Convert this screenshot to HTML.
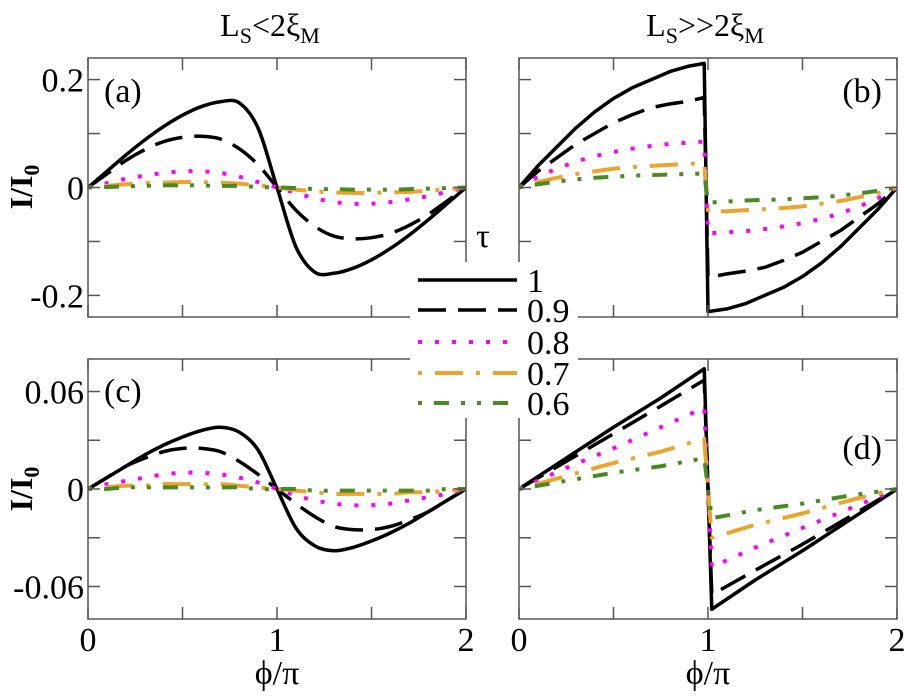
<!DOCTYPE html>
<html><head><meta charset="utf-8"><style>
html,body{margin:0;padding:0;background:#fff}
svg{display:block}
svg text{font-family:"Liberation Serif","DejaVu Serif",serif}
</style></head><body>
<svg id="fig" width="908" height="696" viewBox="0 0 908 696" font-family="Liberation Serif, DejaVu Serif, serif">
<g id="plots"></g>
<rect x="410" y="262" width="168" height="156" fill="#fff"/>
<g id="legend">
<text x="483" y="247" font-size="34" text-anchor="middle">τ</text>
</g>
<text x="270" y="36" font-size="32" text-anchor="middle">L<tspan font-size="22" dy="7">S</tspan><tspan dy="-7">&lt;2ξ</tspan><tspan font-size="22" dy="7">M</tspan></text>
<text x="705" y="36" font-size="32" text-anchor="middle">L<tspan font-size="22" dy="7">S</tspan><tspan dy="-7">&gt;&gt;2ξ</tspan><tspan font-size="22" dy="7">M</tspan></text>
<text transform="translate(32,187) rotate(-90)" font-size="32" font-weight="bold" text-anchor="middle">I/I<tspan font-size="22" dy="7">0</tspan></text>
<text transform="translate(32,489) rotate(-90)" font-size="32" font-weight="bold" text-anchor="middle">I/I<tspan font-size="22" dy="7">0</tspan></text>
<text x="277" y="684" font-size="34" text-anchor="middle">ϕ/π</text>
<text x="708" y="684" font-size="34" text-anchor="middle">ϕ/π</text>
</svg>
<script>
const taus = ["1","0.9","0.8","0.7","0.6"];
const xA = [0,0.1,0.2,0.3,0.4,0.5,0.6,0.7,0.8,0.9,1,1.1,1.2,1.3,1.4,1.5,1.6,1.7,1.8,1.9,2];
const a_t10 = [0,0.03,0.06,0.088,0.113,0.134,0.15,0.159,0.157,0.11,0,-0.11,-0.157,-0.159,-0.15,-0.134,-0.113,-0.088,-0.06,-0.03,0];
const a_t09 = [0,0.025,0.05,0.07,0.085,0.093,0.095,0.09,0.072,0.042,0,-0.042,-0.072,-0.09,-0.095,-0.093,-0.085,-0.07,-0.05,-0.025,0];
const a_t08 = [0,0.008,0.016,0.022,0.027,0.03,0.03,0.027,0.02,0.01,0,-0.01,-0.02,-0.027,-0.03,-0.03,-0.027,-0.022,-0.016,-0.008,0];
const a_t07 = [0,0.003,0.006,0.008,0.009,0.01,0.01,0.009,0.007,0.004,0,-0.004,-0.007,-0.009,-0.01,-0.01,-0.009,-0.008,-0.006,-0.003,0];
const a_t06 = [0,0.001,0.002,0.003,0.004,0.004,0.004,0.003,0.003,0.001,0,-0.001,-0.003,-0.003,-0.004,-0.004,-0.004,-0.003,-0.002,-0.001,0];
const c_t10 = [0,0.007,0.014,0.021,0.027,0.032,0.036,0.038,0.035,0.024,0,-0.024,-0.035,-0.038,-0.036,-0.032,-0.027,-0.021,-0.014,-0.007,0];
const c_t09 = [0,0.007,0.014,0.019,0.023,0.025,0.025,0.023,0.017,0.009,0,-0.009,-0.017,-0.023,-0.025,-0.025,-0.023,-0.019,-0.014,-0.007,0];
const c_t08 = [0,0.003,0.005,0.007,0.009,0.01,0.01,0.009,0.007,0.004,0,-0.004,-0.007,-0.009,-0.01,-0.01,-0.009,-0.007,-0.005,-0.003,0];
const c_t07 = [0,0.001,0.002,0.002,0.003,0.003,0.003,0.003,0.002,0.001,0,-0.001,-0.002,-0.003,-0.003,-0.003,-0.003,-0.002,-0.002,-0.001,0];
const c_t06 = [0,0,0.001,0.001,0.001,0.001,0.001,0.001,0.001,0,0,0,-0.001,-0.001,-0.001,-0.001,-0.001,-0.001,-0.001,0,0];
const xB = [0,0.1,0.2,0.3,0.4,0.5,0.6,0.7,0.8,0.9,0.98,1,1.1,1.2,1.3,1.4,1.5,1.6,1.7,1.8,1.9,2];
const b_t10 = [0,0.04,0.075,0.11,0.14,0.165,0.185,0.2,0.215,0.225,0.23,-0.23,-0.225,-0.215,-0.2,-0.185,-0.165,-0.14,-0.11,-0.075,-0.04,0];
const b_t09 = [0,0.03,0.055,0.08,0.1,0.12,0.135,0.148,0.155,0.16,0.167,-0.167,-0.16,-0.155,-0.148,-0.135,-0.12,-0.1,-0.08,-0.055,-0.03,0];
const b_t08 = [0,0.02,0.035,0.048,0.058,0.066,0.072,0.077,0.081,0.083,0.085,-0.085,-0.083,-0.081,-0.077,-0.072,-0.066,-0.058,-0.048,-0.035,-0.02,0];
const b_t07 = [0,0.01,0.018,0.025,0.03,0.035,0.038,0.04,0.042,0.044,0.045,-0.045,-0.044,-0.042,-0.04,-0.038,-0.035,-0.03,-0.025,-0.018,-0.01,0];
const b_t06 = [0,0.006,0.011,0.015,0.018,0.02,0.022,0.023,0.024,0.025,0.026,-0.028,-0.026,-0.024,-0.023,-0.022,-0.02,-0.018,-0.015,-0.011,-0.006,0];
const xD = [0,0.25,0.5,0.75,0.98,1.02,1.25,1.5,1.75,2];
const d_t10 = [0,0.019,0.038,0.056,0.074,-0.074,-0.056,-0.038,-0.019,0];
const d_t09 = [0,0.017,0.034,0.051,0.067,-0.065,-0.05,-0.034,-0.017,0];
const d_t08 = [0,0.013,0.025,0.038,0.05,-0.048,-0.036,-0.024,-0.012,0];
const d_t07 = [0,0.008,0.016,0.023,0.031,-0.03,-0.022,-0.015,-0.007,0];
const d_t06 = [0,0.005,0.01,0.014,0.019,-0.018,-0.013,-0.009,-0.004,0];
const yTicksTop = [-0.2,-0.1,0,0.1,0.2];
const yLabelsTop = ["-0.2","","0","","0.2"];
const yTicksBot = [-0.06,-0.03,0,0.03,0.06];
const yLabelsBot = ["-0.06","","0","","0.06"];
const xTicks = [0,0.5,1,1.5,2];
const xLabels = ["0","","1","","2"];

const NS="http://www.w3.org/2000/svg";
const styles=[
 {c:"#000",w:3.5,d:""},
 {c:"#000",w:3.5,d:"28 12"},
 {c:"#ff00ff",w:4,d:"4 13"},
 {c:"#eba42e",w:4,d:"4 13 28 13"},
 {c:"#4a8a22",w:4,d:"4 12 15 12 4 12"}
];
const plots=document.getElementById('plots');
function mk(tag,attrs,parent){const e=document.createElementNS(NS,tag);for(const k in attrs)e.setAttribute(k,attrs[k]);(parent||plots).appendChild(e);return e;}
function panel(name,x0,x1,y0,y1,ymin,ymax,xs,series,smooth,label,lx,ly,lanchor,yt,yl,showX){
 const g=mk('g',{});
 
 
 const X=v=>x0+(v/2)*(x1-x0);
 const Y=v=>y1-(v-ymin)/(ymax-ymin)*(y1-y0);
 const cp=mk('clipPath',{id:'clip'+name},g);mk('rect',{x:x0,y:y0,width:x1-x0,height:y1-y0},cp);
 series.forEach((ys,i)=>{
  const pts=xs.map((x,j)=>[X(x),Y(ys[j])]);
  let d='M'+pts[0][0]+','+pts[0][1];
  if(smooth){
   for(let j=0;j<pts.length-1;j++){
    const p0=pts[Math.max(0,j-1)],p1=pts[j],p2=pts[j+1],p3=pts[Math.min(pts.length-1,j+2)];
    d+=' C'+(p1[0]+(p2[0]-p0[0])/6)+','+(p1[1]+(p2[1]-p0[1])/6)+' '+(p2[0]-(p3[0]-p1[0])/6)+','+(p2[1]-(p3[1]-p1[1])/6)+' '+p2[0]+','+p2[1];
   }
  } else { for(let j=1;j<pts.length;j++) d+=' L'+pts[j][0]+','+pts[j][1]; }
  const s=styles[i];
  const p=mk('path',{d:d,fill:'none',stroke:s.c,'stroke-width':s.w,'stroke-dasharray':s.d,'stroke-linejoin':'round','clip-path':'url(#clip'+name+')'},g);
  
  
 });
 const fr=mk('rect',{x:x0,y:y0,width:x1-x0,height:y1-y0,fill:'none',stroke:'#555','stroke-width':1.5},g);
 
 
 yt.forEach((v,i)=>{
  const y=Y(v);
  mk('line',{x1:x0,x2:x0+12,y1:y,y2:y,stroke:'#555','stroke-width':1.5},g);
  mk('line',{x1:x1,x2:x1-12,y1:y,y2:y,stroke:'#555','stroke-width':1.5},g);
  if(yl&&yl[i]){const t=mk('text',{x:x0-4,y:y+12,'font-size':34,'text-anchor':'end'},g);t.textContent=yl[i];
   
   }
 });
 xTicks.forEach((v,i)=>{
  const x=X(v);
  mk('line',{x1:x,x2:x,y1:y1,y2:y1-12,stroke:'#555','stroke-width':1.5},g);
  mk('line',{x1:x,x2:x,y1:y0,y2:y0+12,stroke:'#555','stroke-width':1.5},g);
  if(showX&&xLabels[i]){const t=mk('text',{x:x,y:651,'font-size':34,'text-anchor':'middle'},g);t.textContent=xLabels[i];
   
   }
 });
 const t=mk('text',{x:lx,y:ly,'font-size':34,'text-anchor':lanchor},g);t.textContent=label;
 
 
}
panel('a',88,466,58,317,-0.24,0.24,xA,[a_t10,a_t09,a_t08,a_t07,a_t06],true,'(a)',104,102,'start',yTicksTop,yLabelsTop,false);
panel('b',519,897,58,317,-0.24,0.24,xB,[b_t10,b_t09,b_t08,b_t07,b_t06],false,'(b)',882,102,'end',yTicksTop,null,false);
panel('c',88,466,359,619,-0.08,0.08,xA,[c_t10,c_t09,c_t08,c_t07,c_t06],true,'(c)',104,402,'start',yTicksBot,yLabelsBot,true);
panel('d',519,897,359,619,-0.08,0.08,xD,[d_t10,d_t09,d_t08,d_t07,d_t06],false,'(d)',882,459,'end',yTicksBot,null,true);

const legend=document.getElementById('legend');
const legY=[280,310,342,373,403];
taus.forEach((tau,i)=>{
 const s=styles[i];
 const l=mk('line',{x1:418,x2:517,y1:legY[i],y2:legY[i],stroke:s.c,'stroke-width':s.w,'stroke-dasharray':s.d},legend);
 
 
 const t=mk('text',{x:527,y:legY[i]+12,'font-size':34},legend);t.textContent=tau;
 
 
});
</script>
</body></html>
